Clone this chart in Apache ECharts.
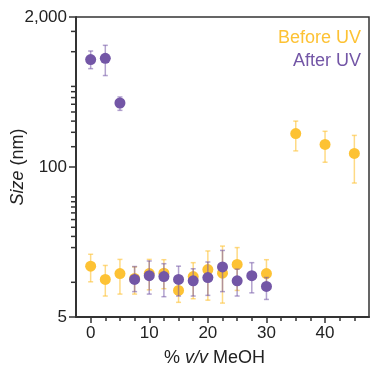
<!DOCTYPE html>
<html>
<head>
<meta charset="utf-8">
<script src="https://cdn.jsdelivr.net/npm/echarts@6/dist/echarts.min.js"></script>
<style>
  html, body { margin: 0; padding: 0; background: #fff; }
  #chart { width: 372px; height: 368px; }
</style>
</head>
<body>
<div id="chart"></div>
<script>
// Particle size vs methanol fraction, before and after UV exposure
const xBefore    = [0, 2.5, 5, 7.5, 10, 12.5, 15, 17.5, 20, 22.5, 25, 30, 35, 40, 45];
const sizeBefore = [13.8, 10.6, 11.9, 10.8, 11.9, 12.0, 8.5, 11.2, 12.9, 12.0, 14.3, 11.9, 195, 157, 131];
const lowBefore  = [10.1, 7.6, 7.9, 7.9, 8.6, 8.8, 6.7, 7.2, 7.0, 6.6, 8.5, 8.9, 138, 110, 72.6];
const highBefore = [17.5, 14.0, 15.8, 13.6, 15.8, 15.7, 9.8, 14.8, 18.7, 20.6, 20.0, 15.7, 250, 204, 188];

const xAfter    = [0, 2.5, 5, 7.5, 10, 12.5, 15, 17.5, 20, 22.5, 25, 27.5, 30];
const sizeAfter = [854, 877, 359, 10.6, 11.4, 11.2, 10.6, 10.3, 11.0, 13.6, 10.3, 11.4, 9.2];
const lowAfter  = [713, 621, 310, 8.3, 7.9, 7.5, 7.6, 7.6, 7.7, 8.3, 7.6, 8.1, 7.1];
const highAfter = [1014, 1136, 405, 13.7, 15.3, 14.5, 13.8, 13.1, 15.0, 18.9, 13.0, 14.8, 11.0];

const xMajorTicks = [0, 10, 20, 30, 40];
const xMinorTicks = [2.5, 5, 7.5, 12.5, 15, 17.5, 22.5, 25, 27.5, 32.5, 35, 37.5, 42.5, 45];
const yMajorTicks = [5, 100, 2000];
const yMinorTicks = [10, 20, 25, 30, 35, 40, 45, 50, 55, 150, 200, 250, 300, 350, 400, 450, 500, 1000, 1500];

const X_MIN = -2.5, X_MAX = 47.5;
const ORANGE = '#FDC234';
const PURPLE = '#7356A6';
const ORANGE_BAR = 'rgba(253,194,52,0.6)';
const PURPLE_BAR = 'rgba(115,86,166,0.55)';
const FONT = '"Liberation Sans", Arial, sans-serif';
const AXIS_COLOR = '#333';
const TEXT_COLOR = '#222';

const points = (xs, ys) => xs.map((x, i) => [x, ys[i]]);
const bars = (xs, lo, hi) => xs.map((x, i) => [x, lo[i], hi[i]]);

function errorBar(color) {
  return function (params, api) {
    const x = api.value(0);
    const pLo = api.coord([x, api.value(1)]);
    const pHi = api.coord([x, api.value(2)]);
    const cap = 2.5;
    const style = { stroke: color, lineWidth: 1.5 };
    return {
      type: 'group',
      children: [
        { type: 'line', shape: { x1: pLo[0], y1: pLo[1], x2: pHi[0], y2: pHi[1] }, style },
        { type: 'line', shape: { x1: pLo[0] - cap, y1: pLo[1], x2: pLo[0] + cap, y2: pLo[1] }, style },
        { type: 'line', shape: { x1: pHi[0] - cap, y1: pHi[1], x2: pHi[0] + cap, y2: pHi[1] }, style }
      ]
    };
  };
}

// Outward ticks on the log y axis, placed through the axis scale
function yTick(params, api) {
  const p = api.coord([X_MIN, api.value(1)]);
  const len = api.value(2);
  return {
    type: 'line',
    shape: { x1: p[0] - 1 - len, y1: p[1], x2: p[0] - 1, y2: p[1] },
    style: { stroke: AXIS_COLOR, lineWidth: 1.5 }
  };
}
const yTickData = yMajorTicks.map(v => [X_MIN, v, 6]).concat(yMinorTicks.map(v => [X_MIN, v, 4]));

const nameStyle = {
  fontFamily: FONT, fontSize: 18, color: TEXT_COLOR,
  rich: { i: { fontFamily: FONT, fontSize: 18, fontStyle: 'italic', color: TEXT_COLOR } }
};

const baseX = { type: 'value', min: X_MIN, max: X_MAX, position: 'bottom', splitLine: { show: false } };

const chart = echarts.init(document.getElementById('chart'), null, { renderer: 'canvas' });
chart.setOption({
  animation: false,
  backgroundColor: '#fff',
  grid: {
    left: 76, top: 17, right: 3, bottom: 51,
    outerBoundsMode: 'none', containLabel: false,
    show: true, borderColor: AXIS_COLOR, borderWidth: 1.5, backgroundColor: 'transparent'
  },
  legend: {
    orient: 'vertical', right: 1, top: 24, align: 'right',
    icon: 'none', itemWidth: 0, itemHeight: 14, itemGap: 5,
    selectedMode: false,
    textStyle: { fontFamily: FONT, fontSize: 18 },
    data: [
      { name: 'Before UV', textStyle: { color: ORANGE } },
      { name: 'After UV', textStyle: { color: PURPLE } }
    ]
  },
  xAxis: [
    Object.assign({}, baseX, {
      name: '% {i|v/v} MeOH', nameLocation: 'middle', nameGap: 32, nameMoveOverlap: false,
      nameTextStyle: Object.assign({ padding: [0, 16, 0, 0] }, nameStyle),
      axisLine: { show: true, onZero: false, lineStyle: { color: AXIS_COLOR, width: 2 } },
      axisTick: { show: true, customValues: xMajorTicks, length: 6, lineStyle: { color: AXIS_COLOR, width: 1.5 } },
      axisLabel: { customValues: xMajorTicks, margin: 8, fontFamily: FONT, fontSize: 17, color: TEXT_COLOR }
    }),
    Object.assign({}, baseX, {
      axisLine: { show: false, onZero: false },
      axisTick: { show: true, customValues: xMinorTicks, length: 4, lineStyle: { color: AXIS_COLOR, width: 1.5 } },
      axisLabel: { show: false }
    })
  ],
  yAxis: {
    type: 'log', logBase: 10, min: 5, max: 2000, position: 'left',
    splitLine: { show: false },
    name: '{i|Size} (nm)', nameLocation: 'middle', nameGap: 49, nameMoveOverlap: false,
    nameTextStyle: nameStyle,
    axisLine: { show: true, onZero: false, lineStyle: { color: AXIS_COLOR, width: 2 } },
    axisTick: { show: false },
    axisLabel: {
      customValues: yMajorTicks, margin: 9, fontFamily: FONT, fontSize: 17, color: TEXT_COLOR,
      formatter: v => Number(v).toLocaleString('en-US')
    }
  },
  series: [
    {
      type: 'custom', name: 'yTicks', renderItem: yTick, data: yTickData,
      encode: { x: 0, y: 1 }, clip: false, silent: true, z: 0
    },
    {
      type: 'custom', name: 'Before UV', renderItem: errorBar(ORANGE_BAR),
      data: bars(xBefore, lowBefore, highBefore), encode: { x: 0, y: [1, 2] }, z: 1, silent: true
    },
    {
      type: 'scatter', name: 'Before UV', data: points(xBefore, sizeBefore),
      symbol: 'circle', symbolSize: 11, itemStyle: { color: ORANGE, opacity: 1 }, z: 2
    },
    {
      type: 'custom', name: 'After UV', renderItem: errorBar(PURPLE_BAR),
      data: bars(xAfter, lowAfter, highAfter), encode: { x: 0, y: [1, 2] }, z: 3, silent: true
    },
    {
      type: 'scatter', name: 'After UV', data: points(xAfter, sizeAfter),
      symbol: 'circle', symbolSize: 11, itemStyle: { color: PURPLE, opacity: 1 }, z: 4
    }
  ]
});
</script>
</body>
</html>
